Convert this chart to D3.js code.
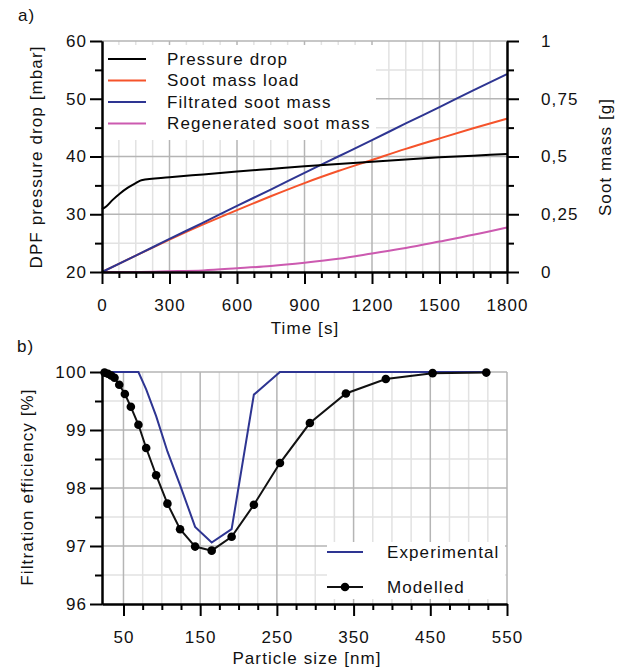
<!DOCTYPE html>
<html>
<head>
<meta charset="utf-8">
<script src="https://cdn.jsdelivr.net/npm/d3@7/dist/d3.min.js"></script>
<style>
  body { margin: 0; background: #fff; }
  svg text { font-family: "Liberation Sans", Arial, sans-serif; font-size: 17px; letter-spacing: 1.1px; fill: #111; }
</style>
</head>
<body>
<div id="chart"></div>
<script>
// panel a) data
const pressureTime = [0, 20, 45, 80, 115, 150, 175, 300, 450, 600, 750, 900, 1050, 1200, 1350, 1500, 1650, 1800];
const pressureDrop = [30.9, 31.4, 32.4, 33.6, 34.6, 35.4, 35.9, 36.4, 36.9, 37.4, 37.85, 38.3, 38.7, 39.1, 39.5, 39.85, 40.15, 40.45];
const massTime = [0, 150, 300, 450, 600, 750, 900, 1050, 1200, 1350, 1500, 1650, 1800];
const sootLoad = [0, 0.071, 0.14, 0.206, 0.268, 0.328, 0.385, 0.437, 0.485, 0.533, 0.578, 0.622, 0.664];
const filtrated = [0, 0.071, 0.143, 0.214, 0.286, 0.357, 0.429, 0.5, 0.571, 0.643, 0.714, 0.786, 0.857];
const regenerated = [0, 0, 0.003, 0.007, 0.016, 0.026, 0.04, 0.057, 0.08, 0.104, 0.132, 0.161, 0.193];
const legendA = ["Pressure drop", "Soot mass load", "Filtrated soot mass", "Regenerated soot mass"];
const colorsA = ["#000000", "#f5532b", "#2e3592", "#cc5ab0"];
const timeTicks = [0, 300, 600, 900, 1200, 1500, 1800];
const pressureTicks = [20, 30, 40, 50, 60];
const massTicks = [0, 0.25, 0.5, 0.75, 1];
const massLabels = ["0", "0,25", "0,5", "0,75", "1"];

// panel b) data
const sizes = [25.3, 29.7, 34, 38.3, 44.5, 51.8, 59.6, 69.5, 79.6, 92.6, 107.3, 123.8, 143.4, 165, 191, 220, 254, 293, 340, 392, 453, 523];
const experimental = [100, 100, 100, 100, 100, 100, 100, 100, 99.7, 99.24, 98.63, 98.05, 97.33, 97.06, 97.29, 99.61, 100, 100, 100, 100, 100, 100];
const modelled = [99.99, 99.97, 99.94, 99.9, 99.78, 99.62, 99.4, 99.09, 98.69, 98.22, 97.73, 97.29, 96.99, 96.92, 97.16, 97.71, 98.43, 99.12, 99.63, 99.88, 99.98, 99.99];
const legendB = ["Experimental", "Modelled"];
const sizeTicks = [50, 150, 250, 350, 450, 550];
const effTicks = [96, 97, 98, 99, 100];

const width = 619, height = 671;
const left = 102, right = 507;

const svg = d3.select("#chart").append("svg")
  .attr("width", width)
  .attr("height", height);

function grid(g, xs, ys, x, y, color) {
  g.selectAll(null).data(xs).enter().append("line")
    .attr("x1", d => x(d)).attr("x2", d => x(d))
    .attr("y1", y.range()[0]).attr("y2", y.range()[1])
    .attr("stroke", color).attr("stroke-width", 1.5);
  g.selectAll(null).data(ys).enter().append("line")
    .attr("y1", d => y(d)).attr("y2", d => y(d))
    .attr("x1", x.range()[0]).attr("x2", x.range()[1])
    .attr("stroke", color).attr("stroke-width", 1.5);
}

function styleAxis(g) {
  g.selectAll("path, line").attr("stroke", "#000").attr("stroke-width", 2);
  g.selectAll("text").attr("fill", "#111").style("font-size", "17px");
  g.attr("font-family", null).attr("font-size", null);
}

// ---------- panel a ----------
const xA = d3.scaleLinear().domain([0, 1800]).range([left, right]);
const yP = d3.scaleLinear().domain([20, 60]).range([272, 41]);
const yM = d3.scaleLinear().domain([0, 1]).range([272, 41]);

const gA = svg.append("g");
grid(gA, d3.range(75, 1800, 75).filter(d => d % 300 !== 0), d3.range(25, 60, 10), xA, yP, "#e2e2e2");
grid(gA, [300, 600, 900, 1200, 1500], [30, 40, 50, 60], xA, yP, "#b5b5b5");

// legend box a
gA.append("rect").attr("x", left + 1).attr("y", 45).attr("width", 273).attr("height", 95).attr("fill", "#fff");
legendA.forEach((name, i) => {
  const ly = 59 + i * 21.5;
  gA.append("line").attr("x1", 108).attr("x2", 146).attr("y1", ly).attr("y2", ly)
    .attr("stroke", colorsA[i]).attr("stroke-width", 2);
  gA.append("text").attr("x", 167).attr("y", ly).attr("dy", "0.35em").text(name);
});

const lineP = d3.line().x((d, i) => xA(pressureTime[i])).y(d => yP(d)).curve(d3.curveMonotoneX);
const lineM = d3.line().x((d, i) => xA(massTime[i])).y(d => yM(d)).curve(d3.curveMonotoneX);

[[regenerated, 3], [sootLoad, 1], [filtrated, 2]].forEach(([vals, ci]) => {
  gA.append("path").datum(vals).attr("d", lineM)
    .attr("fill", "none").attr("stroke", colorsA[ci]).attr("stroke-width", 2);
});
gA.append("path").datum(pressureDrop).attr("d", lineP)
  .attr("fill", "none").attr("stroke", colorsA[0]).attr("stroke-width", 2);

// axes a
gA.append("g").attr("transform", "translate(0,272)")
  .call(d3.axisBottom(xA).tickValues(d3.range(0, 1801, 75).filter(d => d % 300 !== 0)).tickSize(6).tickFormat("").tickSizeOuter(0))
  .call(styleAxis);
gA.append("g").attr("transform", "translate(0,272)")
  .call(d3.axisBottom(xA).tickValues(timeTicks).tickSize(12).tickPadding(15).tickFormat(d3.format("d")).tickSizeOuter(0))
  .call(styleAxis);
gA.append("g").attr("transform", `translate(${left},0)`)
  .call(d3.axisLeft(yP).tickValues(d3.range(25, 60, 10)).tickSize(7).tickFormat("").tickSizeOuter(0))
  .call(styleAxis);
gA.append("g").attr("transform", `translate(${left},0)`)
  .call(d3.axisLeft(yP).tickValues(pressureTicks).tickSize(12).tickPadding(3).tickFormat(d3.format("d")).tickSizeOuter(0))
  .call(styleAxis);
gA.append("g").attr("transform", `translate(${right},0)`)
  .call(d3.axisRight(yM).tickValues([0.125, 0.375, 0.625, 0.875]).tickSize(7).tickFormat("").tickSizeOuter(0))
  .call(styleAxis);
gA.append("g").attr("transform", `translate(${right},0)`)
  .call(d3.axisRight(yM).tickValues(massTicks).tickSize(12).tickPadding(22)
    .tickFormat((d, i) => massLabels[i]).tickSizeOuter(0))
  .call(styleAxis);

gA.append("text").attr("x", 18).attr("y", 21).text("a)");
gA.append("text").attr("x", 305).attr("y", 334).attr("text-anchor", "middle").text("Time [s]");
gA.append("text").attr("transform", "translate(42,157) rotate(-90)").attr("text-anchor", "middle")
  .text("DPF pressure drop [mbar]");
gA.append("text").attr("transform", "translate(611,157) rotate(-90)").attr("text-anchor", "middle")
  .text("Soot mass [g]");

// ---------- panel b ----------
const xB = d3.scaleLinear().domain([22, 550]).range([left, right]);
const yB = d3.scaleLinear().domain([96, 100]).range([604, 372]);

const gB = svg.append("g");
const minorSizes = d3.range(75, 550, 25).filter(d => (d - 50) % 100 !== 0);
grid(gB, minorSizes, [96.5, 97.5, 98.5, 99.5], xB, yB, "#e2e2e2");
grid(gB, sizeTicks, [97, 98, 99, 100], xB, yB, "#b5b5b5");

// legend box b
gB.append("rect").attr("x", 327).attr("y", 542).attr("width", 178).attr("height", 57).attr("fill", "#fff");

gB.append("path").datum(experimental)
  .attr("d", d3.line().x((d, i) => xB(sizes[i])).y(d => yB(d)))
  .attr("fill", "none").attr("stroke", "#2e3592").attr("stroke-width", 2);
gB.append("path").datum(modelled)
  .attr("d", d3.line().x((d, i) => xB(sizes[i])).y(d => yB(d)))
  .attr("fill", "none").attr("stroke", "#111").attr("stroke-width", 2);
gB.selectAll(".dot").data(modelled).enter().append("circle")
  .attr("class", "dot")
  .attr("cx", (d, i) => xB(sizes[i])).attr("cy", d => yB(d))
  .attr("r", 4.3).attr("fill", "#000");

gB.append("line").attr("x1", 327).attr("x2", 363).attr("y1", 552).attr("y2", 552)
  .attr("stroke", "#2e3592").attr("stroke-width", 2);
gB.append("text").attr("x", 387).attr("y", 552).attr("dy", "0.35em").text(legendB[0]);
gB.append("line").attr("x1", 327).attr("x2", 363).attr("y1", 587).attr("y2", 587)
  .attr("stroke", "#111").attr("stroke-width", 2);
gB.append("circle").attr("cx", 345).attr("cy", 587).attr("r", 4.3).attr("fill", "#000");
gB.append("text").attr("x", 387).attr("y", 587).attr("dy", "0.35em").text(legendB[1]);

// axes b (top and right edges are only grid lines)
gB.append("g").attr("transform", "translate(0,604)")
  .call(d3.axisBottom(xB).tickValues(minorSizes).tickSize(6).tickFormat("").tickSizeOuter(0))
  .call(styleAxis);
gB.append("g").attr("transform", "translate(0,604)")
  .call(d3.axisBottom(xB).tickValues(sizeTicks).tickSize(12).tickPadding(15).tickFormat(d3.format("d")).tickSizeOuter(0))
  .call(styleAxis);
gB.append("g").attr("transform", `translate(${left},0)`)
  .call(d3.axisLeft(yB).tickValues([96.5, 97.5, 98.5, 99.5]).tickSize(7).tickFormat("").tickSizeOuter(0))
  .call(styleAxis);
gB.append("g").attr("transform", `translate(${left},0)`)
  .call(d3.axisLeft(yB).tickValues(effTicks).tickSize(12).tickPadding(3).tickFormat(d3.format("d")).tickSizeOuter(0))
  .call(styleAxis);

gB.append("text").attr("x", 17).attr("y", 352).text("b)");
gB.append("text").attr("x", 307).attr("y", 664).attr("text-anchor", "middle").text("Particle size [nm]");
gB.append("text").attr("transform", "translate(33,487) rotate(-90)").attr("text-anchor", "middle")
  .text("Filtration efficiency [%]");
</script>
</body>
</html>
